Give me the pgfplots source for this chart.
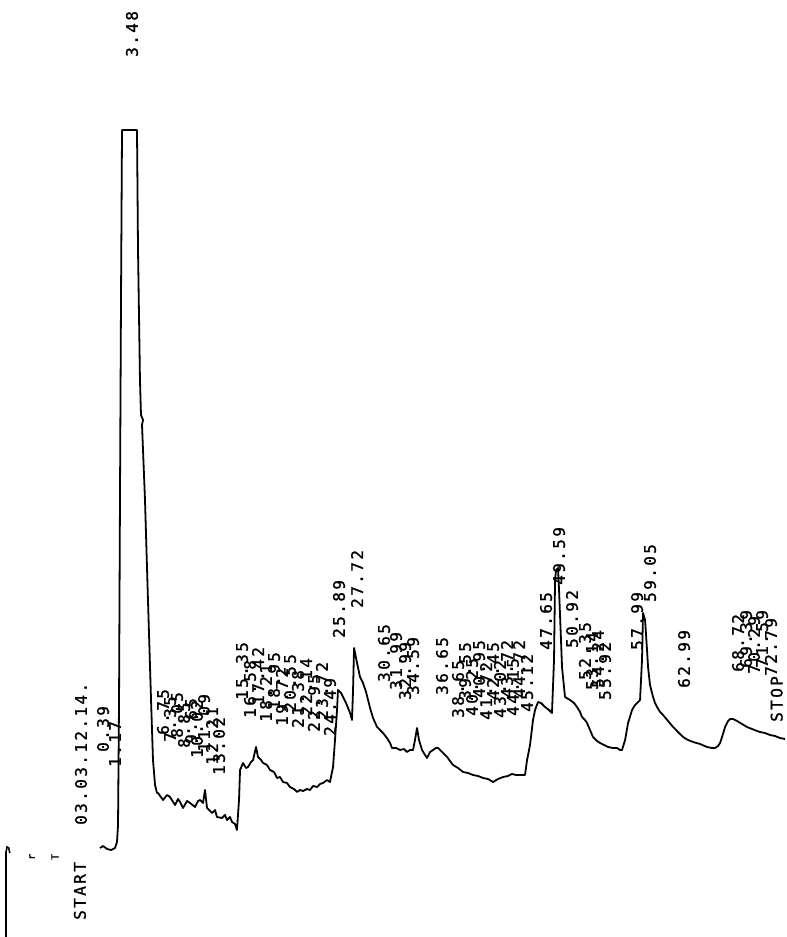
\documentclass[border=0pt]{standalone}
\usepackage{fontspec}
\usepackage{pgfplots}
\pgfplotsset{compat=1.18}
\newfontfamily\prfont[LetterSpace=15, FakeBold=1.2]{DejaVu Sans Mono}
\tikzset{rt/.style={rotate=90, anchor=west, inner sep=0pt,
  font={\prfont\fontsize{16bp}{16bp}\selectfont}, text=black}}
\begin{document}
\begin{tikzpicture}
\begin{axis}[
  scale only axis, width=787bp, height=937bp,
  xmin=-10.56, xmax=74.06, ymin=-87, ymax=850,
  axis lines=none, clip=false,
]
% detector trace: retention time (min) vs. signal (arbitrary units)
\addplot[black, line width=1.8pt, line join=round] coordinates {
(0.19,2) (0.52,4) (0.95,1) (1.38,0) (1.81,2) (2.02,8) (2.13,25) (2.24,150)
(2.34,350) (2.45,550) (2.56,720) (4.17,720) (4.28,600) (4.49,470) (4.60,435)
(4.82,430) (4.71,425) (5.03,350) (5.35,250) (5.68,150) (5.89,90) (6.11,65)
(6.32,57) (6.43,57) (6.97,50) (7.40,55) (7.72,53) (8.26,45) (8.58,51) (8.80,48)
(9.12,42) (9.55,49) (9.87,47) (10.41,43) (10.73,49) (10.95,50) (11.27,47)
(11.48,60) (11.70,42) (12.24,37) (12.56,40) (12.77,33) (13.31,32) (13.63,35)
(13.85,30) (14.17,33) (14.39,28) (14.71,26) (14.92,20) (15.14,50) (15.25,80)
(15.57,87) (15.89,82) (16.11,83) (16.43,88) (16.65,90) (16.97,103) (17.18,93)
(17.51,90) (17.72,87) (18.15,85) (18.47,80) (18.90,78) (19.23,72) (19.55,73)
(19.87,68) (20.30,67) (20.62,63) (21.05,61) (21.38,58) (21.70,60) (22.02,59)
(22.45,61) (22.77,60) (23.10,64) (23.53,63) (23.85,66) (24.17,67) (24.60,70)
(24.92,68) (25.25,83) (25.46,110) (25.68,140) (25.78,160) (26.11,157)
(26.32,153) (26.65,147) (27.08,137) (27.29,130) (27.40,160) (27.51,202)
(27.83,187) (28.15,173) (28.47,167) (28.80,158) (29.23,142) (29.55,132)
(29.98,123) (30.30,120) (30.62,117) (31.05,112) (31.38,107) (31.59,102)
(32.02,102) (32.45,100) (32.88,101) (33.20,98) (33.53,100) (33.85,100)
(34.06,110) (34.28,122) (34.49,110) (34.82,100) (35.14,95) (35.35,92)
(35.68,98) (36.00,100) (36.32,102) (36.54,102) (36.97,98) (37.51,93)
(37.83,89) (38.15,85) (38.69,82) (39.23,78) (39.76,77) (40.30,75) (40.84,74)
(41.38,72) (41.91,71) (42.45,68) (42.99,71) (43.53,73) (44.06,74) (44.49,76)
(44.92,75) (45.35,75) (45.89,75) (46.11,90) (46.43,105) (46.75,130)
(46.97,140) (47.29,148) (47.61,147) (48.04,143) (48.47,140) (48.79,137)
(49.01,190) (49.12,270) (49.23,280) (49.44,282) (49.55,260) (49.76,210)
(49.87,183) (50.19,153) (50.73,150) (51.16,147) (51.48,143) (51.81,138)
(52.02,133) (52.34,130) (52.56,127) (52.88,120) (53.20,113) (53.63,109)
(53.96,107) (54.39,105) (54.82,103) (55.35,102) (55.78,102) (56.11,100)
(56.32,100) (56.65,110) (56.97,127) (57.40,140) (57.72,145) (57.94,147)
(58.26,150) (58.47,190) (58.58,237) (58.80,230) (59.01,200) (59.12,183)
(59.33,165) (59.66,153) (59.87,147) (60.09,143) (60.41,138) (60.73,135)
(61.27,129) (61.81,123) (62.34,118) (62.88,113) (63.42,110) (63.96,108)
(64.71,106) (65.46,103) (66.00,102) (66.32,102) (66.65,104) (66.86,107)
(67.08,113) (67.40,123) (67.72,129) (67.94,131) (68.26,131) (68.69,129)
(69.23,126) (69.76,123) (70.30,121) (70.84,119) (71.16,118) (71.69,117)
(72.23,115) (72.77,114) (73.31,112) (73.85,111)
};
% recorder pen marker at the left edge
\addplot[black, line width=1.6pt] coordinates {
(-9.91,-87) (-9.91,-2) (-9.80,3) (-9.62,2) (-9.50,-3)
};
% run header
\node[rt] at (axis cs:-1.97,-70) {START};
\node[rt] at (axis cs:-1.85,25) {03.03.12.14.};
\node[rt, font={\prfont\fontsize{10bp}{10bp}\selectfont}] at (axis cs:-7.12,-10) {r};
\node[rt, font={\prfont\fontsize{10bp}{10bp}\selectfont}] at (axis cs:-4.65,-10) {T};
% retention time labels
\node[rt] at (axis cs:0.52,98) {0.39};
\node[rt] at (axis cs:1.81,83) {1.17};
\node[rt] at (axis cs:3.63,793) {3.48};
\node[rt] at (axis cs:6.97,115) {6.75};
\node[rt] at (axis cs:7.72,108) {7.35};
\node[rt] at (axis cs:8.47,112) {8.05};
\node[rt] at (axis cs:9.23,102) {8.85};
\node[rt] at (axis cs:9.98,106) {9.65};
\node[rt] at (axis cs:10.62,92) {10.02};
\node[rt] at (axis cs:11.38,98) {11.09};
\node[rt] at (axis cs:12.24,85) {12.21};
\node[rt] at (axis cs:12.99,75) {13.02};
\node[rt] at (axis cs:15.46,150) {15.35};
\node[rt] at (axis cs:16.32,132) {16.58};
\node[rt] at (axis cs:17.18,145) {17.42};
\node[rt] at (axis cs:18.04,128) {18.21};
\node[rt] at (axis cs:18.90,140) {18.95};
\node[rt] at (axis cs:19.76,124) {19.72};
\node[rt] at (axis cs:20.62,138) {20.55};
\node[rt] at (axis cs:21.48,122) {21.38};
\node[rt] at (axis cs:22.34,134) {22.14};
\node[rt] at (axis cs:23.20,118) {22.95};
\node[rt] at (axis cs:24.06,130) {23.72};
\node[rt] at (axis cs:24.92,114) {24.49};
\node[rt] at (axis cs:25.89,212) {25.89};
\node[rt] at (axis cs:27.83,242) {27.72};
\node[rt] at (axis cs:30.73,168) {30.65};
\node[rt] at (axis cs:32.02,160) {31.99};
\node[rt] at (axis cs:32.99,150) {32.99};
\node[rt] at (axis cs:33.85,155) {34.59};
\node[rt] at (axis cs:36.97,155) {36.65};
\node[rt] at (axis cs:38.69,132) {38.65};
\node[rt] at (axis cs:39.44,150) {39.55};
\node[rt] at (axis cs:40.19,134) {40.25};
\node[rt] at (axis cs:40.95,152) {40.95};
\node[rt] at (axis cs:41.70,130) {41.72};
\node[rt] at (axis cs:42.45,150) {42.45};
\node[rt] at (axis cs:43.20,132) {43.02};
\node[rt] at (axis cs:43.96,152) {43.72};
\node[rt] at (axis cs:44.60,134) {44.15};
\node[rt] at (axis cs:45.25,152) {44.72};
\node[rt] at (axis cs:46.11,138) {45.12};
\node[rt] at (axis cs:48.15,200) {47.65};
\node[rt] at (axis cs:49.55,265) {49.59};
\node[rt] at (axis cs:50.95,202) {50.92};
\node[rt] at (axis cs:52.34,170) {52.35};
\node[rt] at (axis cs:53.10,160) {53.14};
\node[rt] at (axis cs:53.74,162) {54.24};
\node[rt] at (axis cs:54.49,150) {55.92};
\node[rt] at (axis cs:57.94,200) {57.99};
\node[rt] at (axis cs:59.33,248) {59.05};
\node[rt] at (axis cs:62.99,162) {62.99};
\node[rt] at (axis cs:68.80,178) {68.72};
\node[rt] at (axis cs:69.66,182) {69.39};
\node[rt] at (axis cs:70.52,176) {70.29};
\node[rt] at (axis cs:71.38,182) {71.59};
\node[rt] at (axis cs:72.34,174) {72.79};
\node[rt] at (axis cs:72.95,128) {STOP};
\end{axis}
\pgfresetboundingbox
\path (current axis.south west) rectangle (current axis.north east);
\end{tikzpicture}
\end{document}
